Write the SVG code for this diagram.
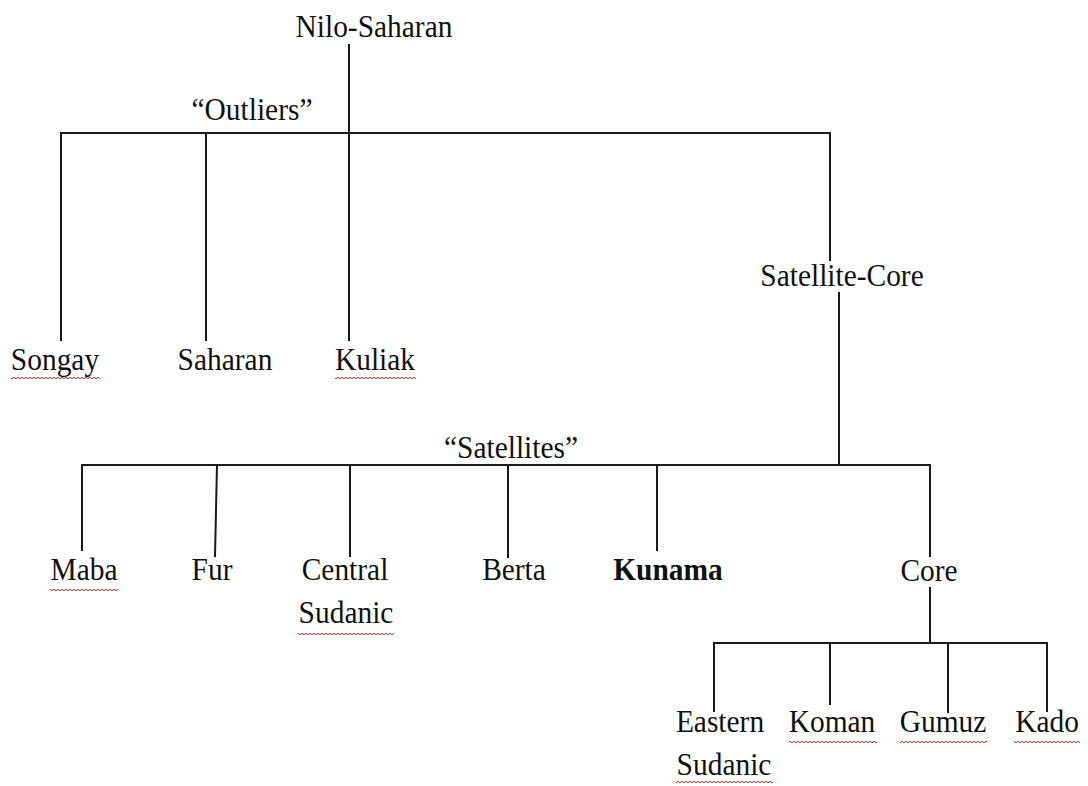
<svg xmlns="http://www.w3.org/2000/svg" width="1088" height="786" viewBox="0 0 1088 786">
  <style>
    .lbl { font-family: "Liberation Serif", "Times New Roman", serif; font-size: 32px; fill: #111; text-anchor: middle; }
    .bold { font-weight: bold; }
    .edge { stroke: #1a1a1a; stroke-width: 2; fill: none; stroke-linecap: square; }
  </style>
  <defs>
    <!-- spell-check style wavy underline -->
    <pattern id="squiggle" width="4" height="4" patternUnits="userSpaceOnUse">
      <path d="M0 3 L2 1 L4 3" stroke="#e53030" stroke-width="1" fill="none"/>
    </pattern>
  </defs>
  <rect width="1088" height="786" fill="#ffffff"/>

  <g id="connectors">
    <!-- root trunk and first-level bar -->
    <path class="edge" d="M349 45 V340"/>
    <path class="edge" d="M61 340 V133 H830 V260"/>
    <path class="edge" d="M206 133 V340"/>
    <!-- Satellite-Core to satellites bar -->
    <path class="edge" d="M839 293 V465"/>
    <path class="edge" d="M82 550 V465 H930 V556"/>
    <path class="edge" d="M217 465 L215 556"/>
    <path class="edge" d="M350 465 V556"/>
    <path class="edge" d="M508 465 V557"/>
    <path class="edge" d="M657 465 V550"/>
    <!-- Core to its branches -->
    <path class="edge" d="M930 588 V643"/>
    <path class="edge" d="M714 711 V643 H1047 V711"/>
    <path class="edge" d="M830 643 V704"/>
    <path class="edge" d="M948 643 V712"/>
  </g>

  <g id="node-nilo-saharan"><text class="lbl" transform="translate(374 37) scale(0.92 1)">Nilo-Saharan</text></g>
  <g id="label-outliers"><text class="lbl" transform="translate(252 120) scale(0.92 1)">“Outliers”</text></g>

  <g id="node-songay">
    <text class="lbl" transform="translate(55 370) scale(0.92 1)">Songay</text>
    <rect x="11" y="376" width="89" height="4" fill="url(#squiggle)"/>
  </g>
  <g id="node-saharan"><text class="lbl" transform="translate(225 370) scale(0.92 1)">Saharan</text></g>
  <g id="node-kuliak">
    <text class="lbl" transform="translate(375 370) scale(0.92 1)">Kuliak</text>
    <rect x="335" y="376" width="81" height="4" fill="url(#squiggle)"/>
  </g>

  <g id="node-satellite-core"><text class="lbl" transform="translate(842 286) scale(0.92 1)">Satellite-Core</text></g>
  <g id="label-satellites"><text class="lbl" transform="translate(511 458) scale(0.92 1)">“Satellites”</text></g>

  <g id="node-maba">
    <text class="lbl" transform="translate(84 580) scale(0.92 1)">Maba</text>
    <rect x="50" y="588" width="68" height="4" fill="url(#squiggle)"/>
  </g>
  <g id="node-fur"><text class="lbl" transform="translate(212 580) scale(0.92 1)">Fur</text></g>
  <g id="node-central-sudanic">
    <text class="lbl" transform="translate(345 580) scale(0.92 1)">Central</text>
    <text class="lbl" transform="translate(346 623) scale(0.92 1)">Sudanic</text>
    <rect x="298" y="632" width="96" height="4" fill="url(#squiggle)"/>
  </g>
  <g id="node-berta"><text class="lbl" transform="translate(514 580) scale(0.92 1)">Berta</text></g>
  <g id="node-kunama"><text class="lbl bold" transform="translate(668 580) scale(0.92 1)">Kunama</text></g>
  <g id="node-core"><text class="lbl" transform="translate(929 581) scale(0.92 1)">Core</text></g>

  <g id="node-eastern-sudanic">
    <text class="lbl" transform="translate(720 732) scale(0.92 1)">Eastern</text>
    <text class="lbl" transform="translate(724 775) scale(0.92 1)">Sudanic</text>
    <rect x="676" y="780" width="97" height="4" fill="url(#squiggle)"/>
  </g>
  <g id="node-koman">
    <text class="lbl" transform="translate(832 732) scale(0.92 1)">Koman</text>
    <rect x="789" y="740" width="88" height="4" fill="url(#squiggle)"/>
  </g>
  <g id="node-gumuz">
    <text class="lbl" transform="translate(943 732) scale(0.92 1)">Gumuz</text>
    <rect x="900" y="740" width="87" height="4" fill="url(#squiggle)"/>
  </g>
  <g id="node-kado">
    <text class="lbl" transform="translate(1047 732) scale(0.92 1)">Kado</text>
    <rect x="1014" y="740" width="66" height="4" fill="url(#squiggle)"/>
  </g>
</svg>
